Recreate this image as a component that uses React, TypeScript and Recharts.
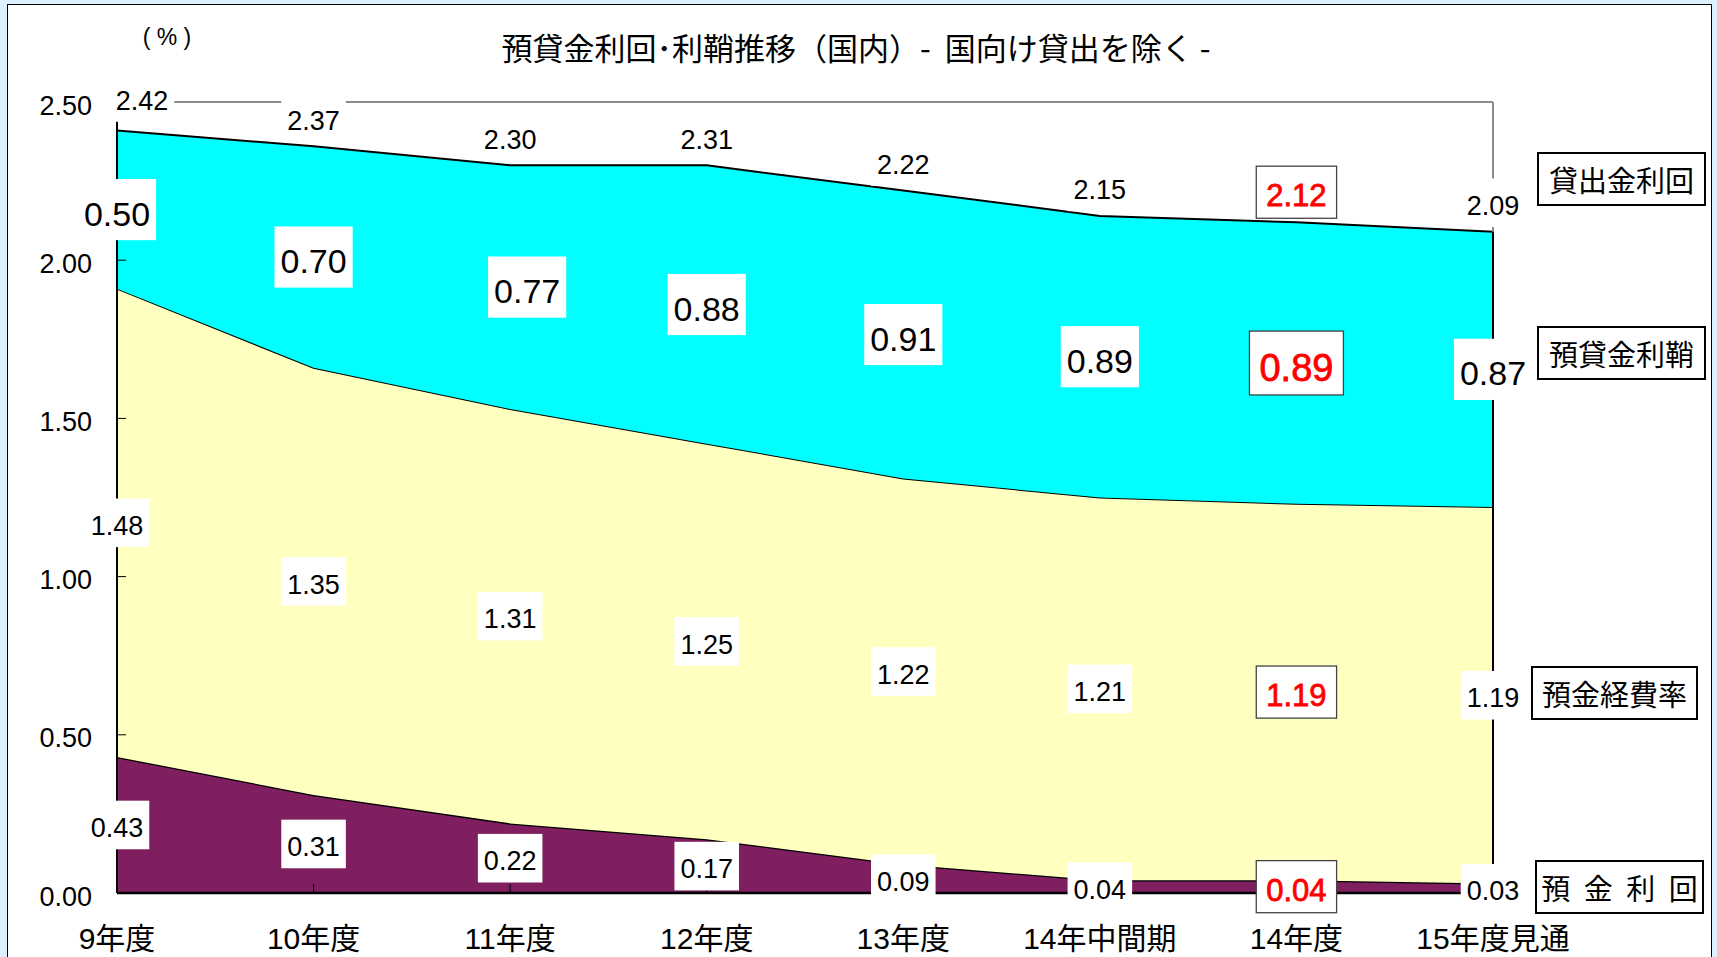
import React from "react";
import {
  ComposedChart,
  Area,
  Line,
  XAxis,
  YAxis,
  ReferenceLine,
  LabelList,
} from "recharts";

// 預貸金利回・利鞘推移（国内）
const categories = ["9年度", "10年度", "11年度", "12年度", "13年度", "14年中間期", "14年度", "15年度見通"];
const depositRate = [0.43, 0.31, 0.22, 0.17, 0.09, 0.04, 0.04, 0.03]; // 預金利回
const expenseRate = [1.48, 1.35, 1.31, 1.25, 1.22, 1.21, 1.19, 1.19]; // 預金経費率
const loanMargin = [0.5, 0.7, 0.77, 0.88, 0.91, 0.89, 0.89, 0.87]; // 預貸金利鞘
const loanRate = [2.42, 2.37, 2.3, 2.31, 2.22, 2.15, 2.12, 2.09]; // 貸出金利回
const yTicks = [0, 0.5, 1, 1.5, 2, 2.5];
const highlightIndex = 6; // 14年度 is shown in red

const data = categories.map((cat, i) => ({
  cat,
  dep: depositRate[i],
  exp: expenseRate[i],
  mar: loanMargin[i],
  depMid: depositRate[i] / 2,
  expMid: depositRate[i] + expenseRate[i] / 2,
  marMid: depositRate[i] + expenseRate[i] + loanMargin[i] / 2,
  top: depositRate[i] + expenseRate[i] + loanMargin[i],
}));

const FONT = "'Liberation Sans', Arial, 'Noto Sans CJK JP', sans-serif";
const JP = "'Noto Sans CJK JP', sans-serif";

function textWidth(s: string, size: number) {
  let w = 0;
  for (const ch of s) w += ch === "." ? 0.278 : 0.556;
  return w * size;
}

// label with white box; dy shifts the whole series, nudge moves single labels
function makeLabel(
  values: number[],
  size: number,
  redSize: number,
  dy = 0,
  nudge: Record<number, [number, number]> = {}
) {
  return (props: any) => {
    const i = props.index;
    const px = props.x ?? props.viewBox?.x;
    const py = props.y ?? props.viewBox?.y;
    if (px == null || py == null || i == null) return null;
    const [nx, ny] = nudge[i] || [0, 0];
    const x = px + nx;
    const y = py + dy + ny;
    const text = values[i].toFixed(2);
    const red = i === highlightIndex;
    const fs = red ? redSize : size;
    const w = textWidth(text, fs) + (red ? 20 : 12);
    const h = fs * (red ? 1.68 : 1.8);
    return (
      <g>
        <rect
          x={x - w / 2}
          y={y - h / 2}
          width={w}
          height={h}
          fill="#fff"
          stroke={red ? "#444" : "none"}
          strokeWidth={1.3}
        />
        <text
          x={x}
          y={y + fs * 0.12}
          textAnchor="middle"
          dominantBaseline="central"
          fontSize={fs}
          fontFamily={FONT}
          fill={red ? "#FF0000" : "#000"}
          stroke={red ? "#FF0000" : "none"}
          strokeWidth={red ? 0.8 : 0}
        >
          {text}
        </text>
      </g>
    );
  };
}

function SideBox({ left, top, width, height, text, spacing = 0 }: any) {
  return (
    <div
      style={{
        position: "absolute",
        left,
        top,
        width,
        height,
        boxSizing: "border-box",
        border: "2px solid #000",
        background: "#fff",
        display: "flex",
        alignItems: "center",
        justifyContent: "center",
        fontFamily: JP,
        fontSize: 29,
        wordSpacing: spacing,
        whiteSpace: "pre",
      }}
    >
      {text}
    </div>
  );
}

export default function App() {
  return (
    <div
      style={{
        position: "absolute",
        left: 0,
        top: 0,
        width: 1717,
        height: 957,
        overflow: "hidden",
        background: "#DDF0FE",
      }}
    >
      <div
        style={{
          position: "absolute",
          left: 7,
          top: 4,
          width: 1705,
          height: 1000,
          boxSizing: "border-box",
          border: "1.5px solid #000",
          background: "#fff",
        }}
      />
      <div
        style={{
          position: "absolute",
          left: 356,
          top: 28,
          width: 1000,
          textAlign: "center",
          fontFamily: JP,
          fontSize: 31,
          lineHeight: "38px",
          whiteSpace: "pre",
        }}
      >
        預貸金利回･利鞘推移（国内）-  国向け貸出を除く -
      </div>
      <div
        style={{
          position: "absolute",
          left: 117,
          top: 22,
          width: 100,
          textAlign: "center",
          fontFamily: FONT,
          fontSize: 23,
          lineHeight: "30px",
          whiteSpace: "pre",
        }}
      >
        ( % )
      </div>

      <div style={{ position: "absolute", left: 0, top: 0 }}>
        <ComposedChart
          width={1717}
          height={957}
          data={data}
          margin={{ top: 102, right: 224, bottom: 24, left: 57 }}
        >
          <Area
            dataKey="dep"
            stackId="s"
            type="linear"
            fill="#7F1F5F"
            fillOpacity={1}
            stroke="#000"
            strokeWidth={2.5}
            dot={false}
            activeDot={false}
            isAnimationActive={false}
          />
          <Area
            dataKey="exp"
            stackId="s"
            type="linear"
            fill="#FFFFC0"
            fillOpacity={1}
            stroke="#000"
            strokeWidth={2}
            dot={false}
            activeDot={false}
            isAnimationActive={false}
          />
          <Area
            dataKey="mar"
            stackId="s"
            type="linear"
            fill="#00FFFF"
            fillOpacity={1}
            stroke="#000"
            strokeWidth={2}
            dot={false}
            activeDot={false}
            isAnimationActive={false}
          />
          <ReferenceLine y={2.5} stroke="#8c8c8c" strokeWidth={2} />
          <ReferenceLine x={categories[categories.length - 1]} stroke="#8c8c8c" strokeWidth={2} />
          <ReferenceLine
            segment={[
              { x: categories[categories.length - 1], y: 0 },
              { x: categories[categories.length - 1], y: data[data.length - 1].top },
            ]}
            stroke="#000"
            strokeWidth={2}
          />
          <XAxis
            dataKey="cat"
            scale="point"
            interval={0}
            height={40}
            tickSize={-9}
            tickMargin={44}
            axisLine={{ stroke: "#000", strokeWidth: 2.5 }}
            tickLine={{ stroke: "#000", strokeWidth: 1 }}
            tick={{ fontSize: 30, fill: "#000", fontFamily: FONT }}
          />
          <YAxis
            type="number"
            domain={[0, 2.5]}
            ticks={yTicks}
            interval={0}
            width={60}
            tickSize={-9}
            tickMargin={34}
            tickFormatter={(v: number) => v.toFixed(2)}
            axisLine={{ stroke: "#000", strokeWidth: 2 }}
            tickLine={{ stroke: "#000", strokeWidth: 1 }}
            tick={{ fontSize: 27, fill: "#000", fontFamily: FONT, dy: 3 }}
          />
          <Line
            dataKey="depMid"
            stroke="none"
            dot={false}
            activeDot={false}
            legendType="none"
            isAnimationActive={false}
          >
            <LabelList dataKey="depMid" content={makeLabel(depositRate, 27, 31)} />
          </Line>
          <Line
            dataKey="expMid"
            stroke="none"
            dot={false}
            activeDot={false}
            legendType="none"
            isAnimationActive={false}
          >
            <LabelList dataKey="expMid" content={makeLabel(expenseRate, 27, 31)} />
          </Line>
          <Line
            dataKey="marMid"
            stroke="none"
            dot={false}
            activeDot={false}
            legendType="none"
            isAnimationActive={false}
          >
            <LabelList dataKey="marMid" content={makeLabel(loanMargin, 34, 38, 0, { 2: [17, 0] })} />
          </Line>
          <Line
            dataKey="top"
            stroke="none"
            dot={false}
            activeDot={false}
            legendType="none"
            isAnimationActive={false}
          >
            <LabelList
              dataKey="top"
              content={makeLabel(loanRate, 27, 31, -29, { 0: [25, -4], 6: [0, -1] })}
            />
          </Line>
        </ComposedChart>
      </div>

      <SideBox left={1537} top={152} width={169} height={54} text="貸出金利回" />
      <SideBox left={1537} top={326} width={169} height={54} text="預貸金利鞘" />
      <SideBox left={1531} top={666} width={167} height={54} text="預金経費率" />
      <SideBox left={1535} top={860} width={169} height={54} text="預 金 利 回" spacing={7} />
    </div>
  );
}
